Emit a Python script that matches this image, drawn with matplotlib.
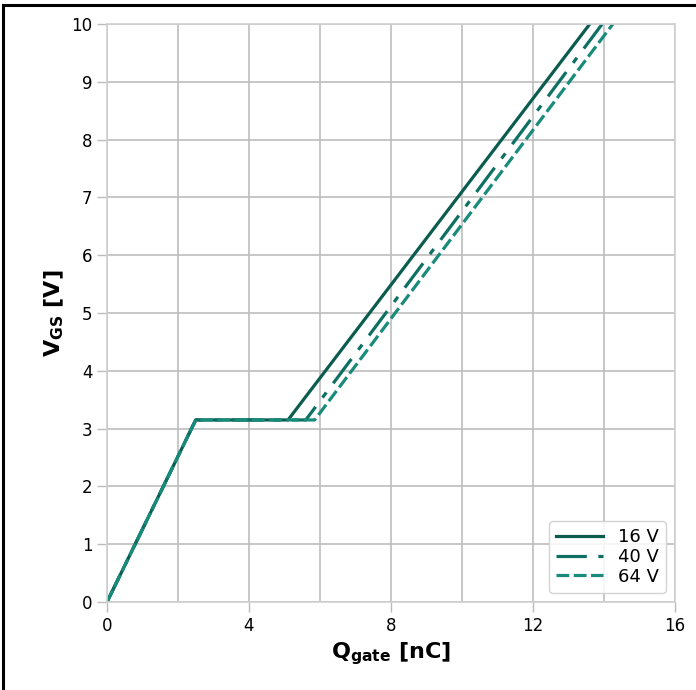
import matplotlib
matplotlib.use("Agg")
import matplotlib.pyplot as plt
from matplotlib.lines import Line2D

# gate charge curves (Q in nC, V in V)
labels = ["16 V", "40 V", "64 V"]
q_16 = [0, 2.5, 5.1, 13.6]
v_16 = [0, 3.15, 3.15, 10.0]
q_40 = [0, 2.5, 5.6, 13.95]
v_40 = [0, 3.15, 3.15, 10.0]
q_64 = [0, 2.5, 5.85, 14.25]
v_64 = [0, 3.15, 3.15, 10.0]

colors = ["#0b5c4f", "#0e7062", "#188b7b"]
styles = ["-", (0, (9.5, 3.6, 2, 3.6)), (0, (4, 1.4))]

fig = plt.figure(figsize=(6.96, 6.90), dpi=100)
ax = fig.add_axes([0.1537, 0.1275, 0.8161, 0.8377])

for q, v, c, ls, lab in zip([q_16, q_40, q_64], [v_16, v_40, v_64],
                             colors, styles, labels):
    ax.plot(q, v, color=c, ls=ls, lw=2.3, label=lab)

ax.set_xlim(0, 16)
ax.set_ylim(0, 10)
ax.set_xticks([0, 4, 8, 12, 16])
ax.set_xticks([2, 6, 10, 14], minor=True)
ax.set_yticks(range(0, 11))
ax.grid(True, which="both", color="#bdbdbd", lw=1.2)
ax.set_axisbelow(True)
ax.tick_params(which="major", labelsize=12, color="#bbbbbb", length=7,
               width=1, pad=3.5)
ax.tick_params(which="minor", length=0)
for s in ax.spines.values():
    s.set_color("#d0d0d0")
    s.set_linewidth(1.2)

ax.set_xlabel(r"$\mathbf{Q_{gate}}$ [nC]", fontsize=16, fontweight="bold")
ax.set_ylabel(r"$\mathbf{V_{GS}}$ [V]", fontsize=16, fontweight="bold")

ax.legend(loc="lower right", fontsize=13, handlelength=2.6, labelspacing=0.1,
          borderpad=0.4, framealpha=0.85, edgecolor="#cccccc")

# outer frame (partially cropped)
fig.add_artist(Line2D([0.004, 1.0], [0.9925, 0.9925], transform=fig.transFigure,
                      color="black", lw=2.2))
fig.add_artist(Line2D([0.004, 0.004], [0.0, 0.9925], transform=fig.transFigure,
                      color="black", lw=2.2))

fig.savefig("out.png", dpi=100)
